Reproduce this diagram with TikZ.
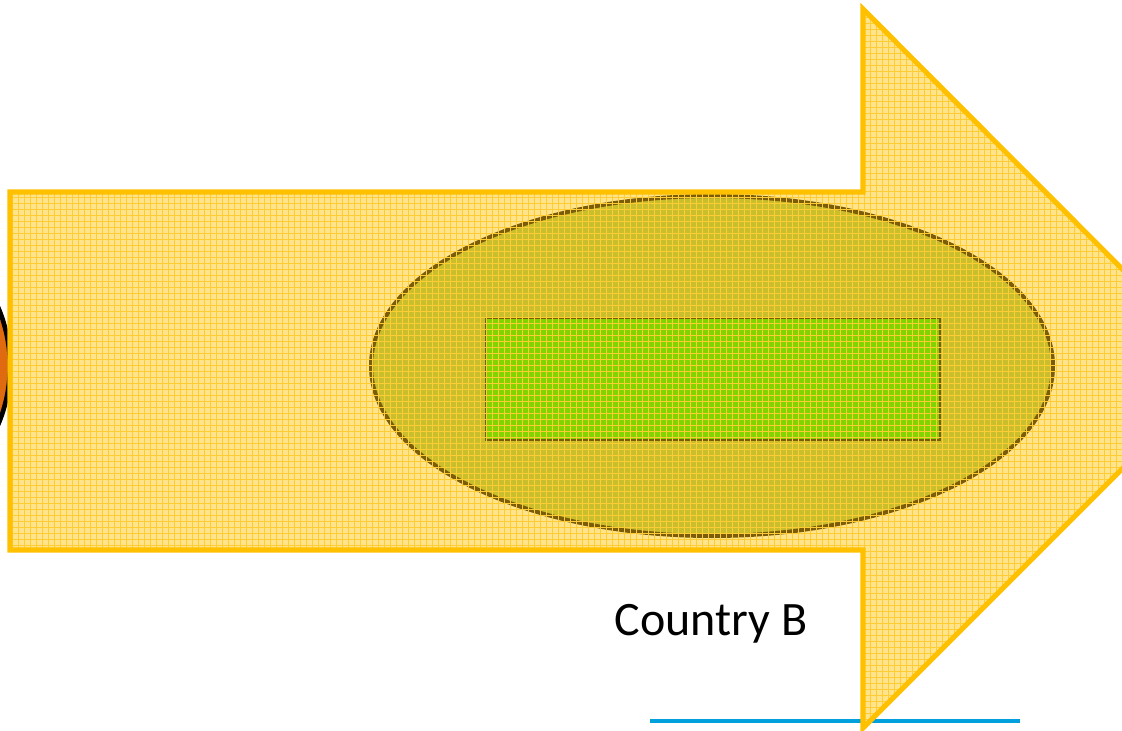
\documentclass[tikz,border=0pt]{standalone}
\usepackage{fontspec}
\setsansfont{Carlito}
\usetikzlibrary{patterns.meta}

\definecolor{arrowline}{HTML}{FFC000}
\definecolor{arrowfill}{HTML}{FFE48C}
\definecolor{ovalfill}{HTML}{C9BE2C}
\definecolor{ovalline}{HTML}{7A5C0A}
\definecolor{boxfill}{HTML}{80D400}
\definecolor{dotfill}{HTML}{E06A10}
\definecolor{lineblue}{HTML}{00A0DC}

\tikzset{
    bigarrow/.style={draw=arrowline, line width=3.8pt, line join=miter},
    gridfill/.style={pattern={Hatch[angle=0, distance=4.5pt, line width=0.45pt]}, pattern color=arrowline!80},
    oval/.style={draw=ovalline, line width=3pt, fill=ovalfill},
    innerbox/.style={draw=ovalline, line width=1.2pt, fill=boxfill},
    label/.style={font=\sffamily\fontsize{36}{42}\selectfont, text=black}
}

\begin{document}
\begin{tikzpicture}[x=0.75pt, y=-0.75pt]
\useasboundingbox (0,0) rectangle (1122,731);
\clip (0,0) rectangle (1122,731);

    \coordinate (bodyTL) at (10,192);
    \coordinate (bodyBL) at (10,550);
    \coordinate (neckT) at (863,192);
    \coordinate (neckB) at (863,550);
    \coordinate (headT) at (863,9);
    \coordinate (headB) at (863,728);
    \coordinate (tip) at (1222,369);
    \coordinate (lineL) at (650,721);
    \coordinate (lineR) at (1020,721);

% left disc, mostly hidden
\draw[black, line width=3.5pt, fill=dotfill] (-140,366) circle[radius=150];

% underline
\draw[lineblue, line width=2.6pt] (lineL) -- (lineR);

% arrow
\fill[arrowfill] (bodyTL) -- (neckT) -- (headT) -- (tip) -- (headB) -- (neckB) -- (bodyBL) -- cycle;
\draw[oval] (712,366) ellipse[x radius=341, y radius=170];
\draw[innerbox] (486,318) rectangle (940,440);
\fill[gridfill] (bodyTL) -- (neckT) -- (headT) -- (tip) -- (headB) -- (neckB) -- (bodyBL) -- cycle;
\draw[bigarrow] (bodyTL) -- (neckT) -- (headT) -- (tip) -- (headB) -- (neckB) -- (bodyBL) -- cycle;

\node[label] (countryB) at (711,624) {Country B};
\end{tikzpicture}
\end{document}
